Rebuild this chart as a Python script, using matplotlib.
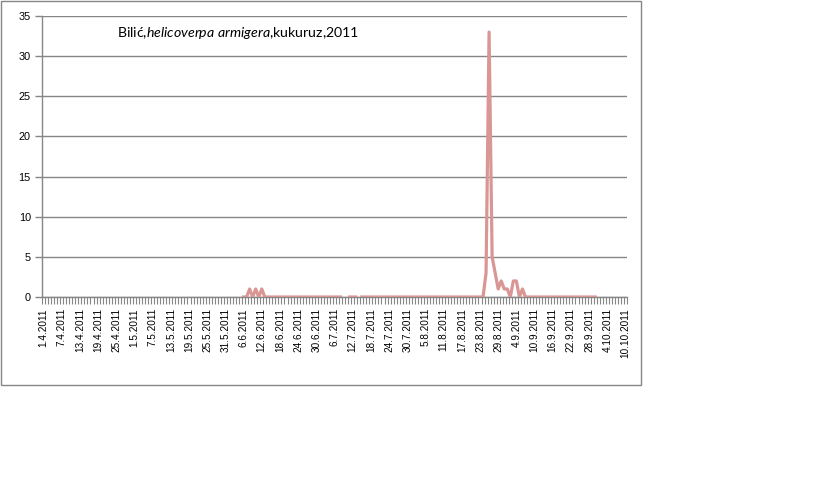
import numpy as np
import pandas as pd
import matplotlib.pyplot as plt
from matplotlib.patches import Rectangle
from matplotlib.ticker import FixedLocator

nan = np.nan

# =============================================================================
# DATA - daily counts, category axis 1.4.2011 .. 10.10.2011
# =============================================================================
start, end = "2011-04-01", "2011-10-10"
first_obs = "2011-06-01"

june = [nan, nan, nan, nan, nan, 0, 0, 1, 0, 1,
        0, 1, 0, 0, 0, 0, 0, 0, 0, 0,
        0, 0, 0, 0, 0, 0, 0, 0, 0, 0]
july = [0, 0, 0, 0, 0, 0, 0, 0, nan, nan,
        0, 0, 0, nan, 0, 0, 0, 0, 0, 0,
        0, 0, 0, 0, 0, 0, 0, 0, 0, 0, 0]
august = [0, 0, 0, 0, 0, 0, 0, 0, 0, 0,
          0, 0, 0, 0, 0, 0, 0, 0, 0, 0,
          0, 0, 0, 0, 3, 33, 5, 3, 1, 2, 1]
september = [1, 0, 2, 2, 0, 1, 0, 0, 0, 0,
             0, 0, 0, 0, 0, 0, 0, 0, 0, 0,
             0, 0, 0, 0, 0, 0, 0, 0, 0, 0]

title_plain = "Bilić,"
title_italic = "helicoverpa armigera"
title_rest = ",kukuruz,2011"

# =============================================================================
days = pd.date_range(start, end)
labels = [f"{d.day}.{d.month}.{d.year}" for d in days]
series = pd.Series(np.nan, index=days)
obs = june + july + august + september
series.loc[first_obs:][:len(obs)] = obs
x = np.arange(len(days))

plt.rcParams["font.family"] = ["Liberation Sans", "DejaVu Sans"]
plt.rcParams["mathtext.fontset"] = "custom"
plt.rcParams["mathtext.it"] = "Lato:italic"
plt.rcParams["mathtext.rm"] = "Lato"

W, H = 819, 484
fig = plt.figure(figsize=(W / 100, H / 100), dpi=100)

# chart area frame
fig.patches.append(Rectangle((1 / W, 1 - 385 / H), 640 / W, 384 / H,
                             transform=fig.transFigure, fill=False,
                             edgecolor="#868686", linewidth=1.0))

ax = fig.add_axes([42 / W, 1 - 297 / H, 585 / W, 281 / H])
grid_c = "#868686"

ax.plot(x, series.values, color="#D99694", linewidth=2.3,
        solid_joinstyle="round", zorder=3)

ax.set_xlim(-0.5, len(days) - 0.5)
ax.set_ylim(0, 35)
ax.set_yticks(np.arange(0, 36, 5))
ax.yaxis.grid(True, color=grid_c, linewidth=1.0)
ax.set_axisbelow(True)

ax.xaxis.set_major_locator(FixedLocator(x[::6]))
ax.set_xticklabels(labels[::6], rotation=90)
ax.xaxis.set_minor_locator(FixedLocator(np.arange(-0.5, len(days), 1)))
ax.tick_params(axis="x", which="major", length=0, pad=8, labelsize=7.2)
ax.tick_params(axis="x", which="minor", length=5, width=0.8, color=grid_c)
ax.tick_params(axis="y", length=5, width=1.0, color=grid_c, labelsize=7.8,
               pad=3)

for s in ["top", "right"]:
    ax.spines[s].set_visible(False)
for s in ["left", "bottom"]:
    ax.spines[s].set_color(grid_c)
    ax.spines[s].set_linewidth(1.0)

fig.text(117 / W, 1 - 33 / H,
         title_plain + r"$\it{" + title_italic.replace(" ", r"\ ") + "}$" + title_rest,
         fontsize=10.2, family=["Lato", "DejaVu Sans"], va="center", ha="left")

fig.savefig("out.png", dpi=100)
